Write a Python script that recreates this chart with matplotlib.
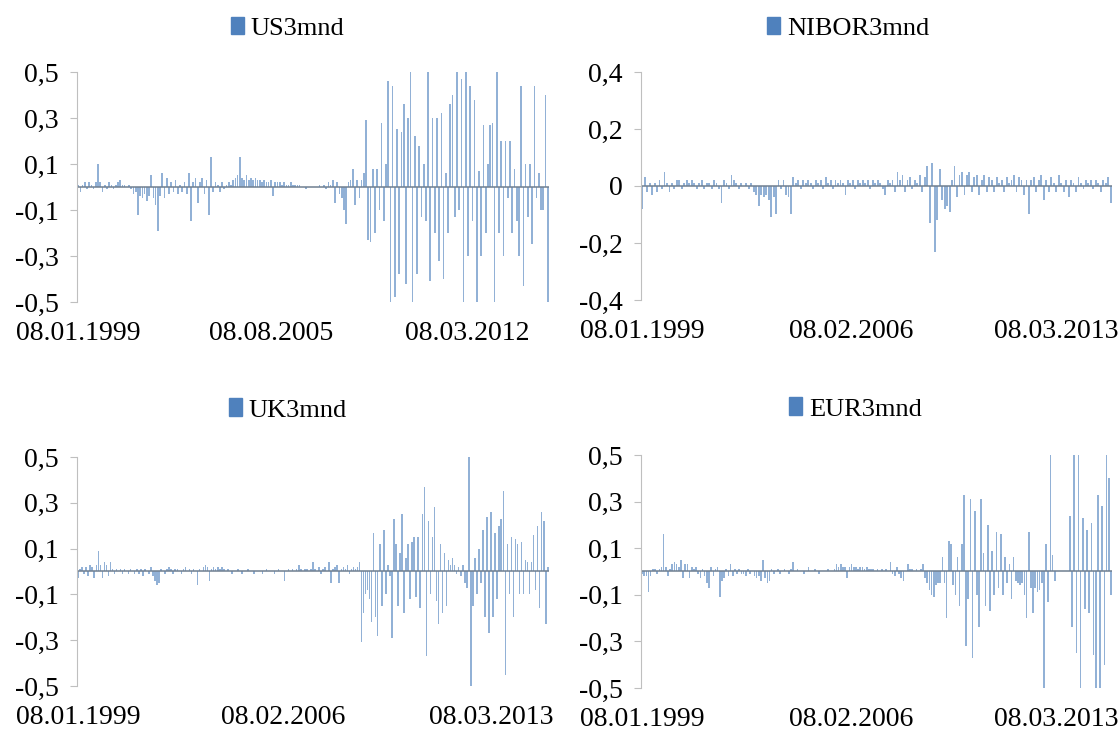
import matplotlib
matplotlib.use('Agg')
import matplotlib.pyplot as plt
from matplotlib.patches import Patch
from matplotlib.ticker import FuncFormatter
import numpy as np

plt.rcParams['font.family'] = 'Liberation Serif'

#-------------------------------------- data
us_quiet = [0.01, -0.02, 0.01, 0.02, -0.01, 0.02, 0.01, -0.01, 0.02, 0.10,
            0.02, -0.02, 0.01, -0.01, 0.02, 0.01, -0.01, 0.01, 0.02, 0.03,
            0.01, 0.01, 0.00, 0.01, -0.01, -0.03, -0.02, -0.12, -0.04, -0.05,
            -0.03, -0.06, -0.04, 0.05, -0.05, -0.08, -0.19, -0.04, 0.06, -0.05,
            0.04, -0.03, 0.02, -0.02, 0.03, -0.03, 0.01, -0.02, 0.02, -0.03,
            0.06, -0.15, 0.02, 0.04, -0.07, 0.02, 0.04, -0.03, 0.03, -0.12,
            0.13, -0.02, 0.02, 0.01, -0.02, 0.02, -0.01, 0.01, 0.02, 0.01,
            0.03, 0.04, 0.05, 0.13, 0.04, 0.03, 0.05, 0.03, 0.04, 0.03,
            0.04, 0.03, 0.03, 0.02, 0.03, 0.02, 0.02, 0.03, -0.04, 0.02,
            0.02, 0.02, 0.01, 0.02, 0.01, 0.01, 0.02, 0.01, 0.01, 0.01,
            0.01, 0.00, 0.00, -0.01, 0.00, 0.00, 0.00, 0.00, 0.00, 0.01,
            0.00, 0.01, -0.01, 0.02, 0.01, 0.03, -0.07, 0.02, -0.03, -0.05,
            -0.10, -0.16, 0.02, 0.03, 0.08, -0.08, 0.03, -0.05, 0.03, 0.06,
            0.29, -0.23, -0.24, 0.08, -0.20, 0.08, -0.10, 0.28, -0.15, 0.10]
us_crisis = [0.46, -0.50, 0.44, -0.48, 0.25, -0.38, 0.24, 0.36, -0.42, 0.30,
             0.50, -0.50, 0.22, -0.38, 0.18, -0.13, 0.10, -0.15, 0.50, -0.41,
             0.30, -0.20, 0.30, -0.32, 0.32, -0.40, 0.06, -0.20, 0.36, 0.40,
             -0.13, 0.50, -0.10, 0.47, -0.50, 0.50, -0.30, 0.44, -0.15, 0.38,
             -0.50, 0.07, -0.30, 0.27, -0.20, 0.10, 0.27, 0.28, -0.50, 0.50,
             -0.20, 0.20, -0.30, 0.20, -0.05, 0.20, -0.20, 0.08, -0.15, -0.30,
             0.44, -0.43, 0.10, -0.13, 0.10, -0.25, 0.44, -0.05, 0.06, -0.10,
             -0.10, 0.40, -0.50]
us3mnd = us_quiet + us_crisis

nibor3mnd = [-0.08, 0.03, -0.02, 0.01, -0.03, 0.01, -0.02, 0.02, -0.01, 0.05,
             0.01, -0.02, 0.01, -0.01, 0.02, 0.02, -0.01, 0.01, 0.02, 0.01,
             0.02, 0.01, -0.01, 0.01, 0.02, -0.01, 0.01, 0.01, -0.01, 0.02,
             0.01, -0.01, -0.06, 0.02, 0.01, -0.01, 0.04, 0.02, 0.01, -0.01,
             0.01, 0.00, 0.01, -0.01, 0.01, -0.02, -0.03, -0.07, -0.03, -0.04,
             -0.03, -0.05, -0.11, -0.04, -0.10, 0.02, -0.01, 0.02, -0.03, -0.04,
             -0.10, 0.03, 0.01, 0.02, -0.01, 0.02, 0.01, 0.02, 0.01, -0.01,
             0.02, 0.01, 0.02, -0.01, 0.03, 0.01, 0.02, -0.01, 0.02, 0.01,
             0.02, 0.01, -0.03, 0.02, 0.01, 0.02, -0.01, 0.02, 0.01, 0.02,
             0.01, 0.02, -0.01, 0.02, 0.01, 0.02, 0.01, -0.01, -0.03, 0.02,
             0.01, 0.02, -0.02, 0.05, 0.02, 0.04, -0.02, 0.02, 0.03, -0.01,
             0.02, 0.01, 0.04, -0.02, 0.03, 0.07, -0.13, 0.08, -0.23, -0.12,
             0.06, -0.05, -0.08, -0.07, -0.09, 0.02, 0.07, -0.04, 0.04, 0.05,
             -0.03, 0.04, 0.05, -0.02, 0.03, 0.04, -0.03, 0.02, 0.04, -0.02,
             0.03, 0.02, -0.02, 0.03, 0.01, 0.02, -0.02, 0.03, 0.01, 0.02,
             0.04, -0.02, 0.03, 0.02, -0.03, 0.02, -0.10, 0.02, 0.03, -0.02,
             0.02, 0.04, -0.05, 0.02, -0.02, 0.03, 0.01, -0.02, 0.04, 0.01,
             -0.02, 0.02, -0.04, 0.02, 0.01, -0.02, 0.03, 0.01, -0.01, 0.02,
             0.01, 0.02, -0.01, 0.02, 0.01, -0.02, 0.02, 0.01, 0.03, -0.06]

uk_quiet = [-0.03, 0.01, 0.02, -0.01, 0.02, -0.02, 0.03, 0.02, -0.03, 0.03,
            0.09, 0.03, -0.03, 0.04, 0.03, -0.02, 0.04, 0.01, -0.01, 0.01,
            0.00, 0.01, -0.01, 0.01, 0.00, -0.01, 0.01, 0.00, -0.01, 0.01,
            -0.01, 0.01, -0.02, 0.01, 0.00, -0.01, 0.02, -0.02, -0.04, -0.06,
            -0.05, 0.01, 0.00, -0.01, 0.01, 0.02, 0.01, -0.01, 0.01, 0.01,
            0.00, -0.01, 0.01, 0.02, 0.00, 0.01, -0.01, 0.01, 0.00, -0.06,
            0.01, 0.00, 0.02, 0.03, 0.02, -0.04, 0.01, 0.02, 0.01, 0.02,
            0.01, 0.02, 0.01, 0.00, 0.01, 0.00, -0.01, 0.00, 0.00, 0.01,
            0.00, -0.01, 0.00, 0.00, 0.01, 0.00, 0.00, -0.01, 0.00, 0.00,
            0.00, -0.01, 0.00, 0.01, 0.00, 0.00, 0.00, -0.01, 0.00, 0.01,
            0.00, 0.00, -0.04, 0.00, 0.01, 0.00, 0.01, 0.00, 0.01, 0.03,
            0.01, 0.00, 0.01, 0.01, 0.00, 0.01, 0.04, 0.01, 0.00, 0.02,
            -0.01, 0.01, 0.02, 0.00, 0.04, -0.05, 0.01, 0.02, 0.03, -0.05,
            0.01, 0.02, 0.01, 0.03, -0.01, 0.01, 0.02, 0.01, 0.02, 0.04]
uk_crisis = [-0.31, -0.18, -0.10, -0.08, -0.12, -0.22, 0.17, -0.20, -0.28, 0.12,
             -0.15, 0.18, -0.10, 0.03, -0.02, -0.29, 0.23, 0.12, -0.15, 0.08,
             0.25, -0.18, 0.06, 0.12, -0.12, 0.13, 0.15, -0.11, 0.15, -0.16,
             0.25, 0.37, -0.37, 0.22, -0.10, 0.15, 0.28, -0.13, -0.23, 0.12,
             -0.18, 0.08, -0.15, 0.05, 0.03, 0.06, 0.03, -0.01, 0.02, -0.02,
             0.03, -0.05, -0.07, 0.50, -0.50, -0.15, 0.06, -0.10, 0.10, -0.05,
             0.18, -0.20, 0.24, -0.27, 0.26, -0.20, 0.17, -0.12, 0.20, 0.23,
             0.35, -0.45, 0.12, -0.10, 0.15, -0.20, 0.14, 0.12, -0.10, 0.13,
             -0.10, 0.05, 0.04, -0.10, 0.04, 0.16, -0.08, 0.20, -0.16, 0.26,
             0.22, -0.23, 0.02]
uk3mnd = uk_quiet + uk_crisis

eur_quiet = [-0.01, -0.02, -0.02, -0.09, -0.02, 0.01, 0.01, -0.01, 0.01, 0.02,
             0.16, 0.02, -0.02, 0.01, 0.03, 0.04, 0.03, 0.02, 0.05, -0.03,
             0.03, 0.03, -0.03, 0.02, 0.01, 0.02, -0.01, -0.03, 0.01, -0.02,
             -0.05, -0.07, 0.02, -0.02, 0.01, 0.02, -0.11, -0.04, -0.03, 0.01,
             -0.02, 0.03, -0.02, 0.01, -0.01, 0.01, -0.01, -0.01, -0.02, 0.01,
             -0.01, 0.00, -0.02, -0.03, -0.02, -0.04, 0.05, -0.03, -0.05, -0.04,
             0.01, -0.01, 0.00, 0.01, -0.01, 0.00, 0.01, 0.00, -0.01, 0.01,
             0.04, 0.00, 0.01, 0.00, 0.00, -0.01, 0.00, 0.02, 0.00, 0.00,
             0.01, 0.00, -0.01, 0.00, 0.00, 0.00, 0.01, 0.00, 0.00, 0.01,
             0.03, 0.02, 0.03, 0.02, 0.02, -0.03, 0.02, 0.03, 0.02, 0.02,
             0.01, 0.02, 0.02, 0.01, 0.02, 0.01, 0.01, 0.01, 0.00, 0.01,
             0.00, 0.01, 0.00, 0.01, 0.00, 0.04, -0.01, -0.02, 0.02, -0.01,
             -0.03, -0.04, 0.00, 0.03, 0.01, 0.01, 0.00, 0.01, 0.00, 0.01,
             0.03]
eur_crisis = [-0.03, -0.05, -0.08, -0.10, -0.11, -0.06, -0.05, -0.05, 0.06, -0.05,
              -0.20, 0.13, 0.12, -0.06, -0.10, 0.06, -0.15, 0.12, 0.33, -0.32,
              -0.12, 0.31, -0.37, 0.26, -0.10, -0.24, 0.31, 0.08, -0.15, 0.20,
              -0.17, 0.09, -0.10, 0.17, -0.07, 0.16, -0.10, 0.06, -0.05, 0.03,
              -0.12, 0.06, -0.04, -0.05, -0.06, -0.05, -0.10, -0.20, 0.17, -0.07,
              -0.18, -0.07, -0.09, -0.08, -0.05]
eur_late = [-0.50, 0.12, -0.13, 0.50, 0.07, -0.04, 0.00, 0.00, 0.00, 0.00,
            0.00, 0.00, 0.24, -0.24, 0.50, -0.35, 0.50, -0.50, 0.23, -0.16,
            0.18, -0.18, 0.21, -0.36, -0.50, 0.33, -0.50, 0.28, -0.40, 0.50,
            0.40, -0.10]
eur3mnd = eur_quiet + eur_crisis + eur_late

us_dates = ['08.01.1999', '08.08.2005', '08.03.2012']
other_dates = ['08.01.1999', '08.02.2006', '08.03.2013']

#-------------------------------------- plotting
bar_col = '#4F81BD'


def comma_fmt(v, pos):
    if abs(v) < 1e-9:
        return '0'
    return ('%.1f' % v).replace('.', ',')


fig = plt.figure(figsize=(11.18, 7.38), dpi=100)

panels = [
    (us3mnd, 'US3mnd', [0.0689, 0.5908, 0.422, 0.3117], 0.5,
     [0.5, 0.3, 0.1, -0.1, -0.3, -0.5], us_dates, [0.0, 0.41, 0.825], (0.257, 0.962)),
    (nibor3mnd, 'NIBOR3mnd', [0.5733, 0.5935, 0.4213, 0.309], 0.4,
     [0.4, 0.2, 0.0, -0.2, -0.4], other_dates, [0.0, 0.443, 0.88], (0.7585, 0.962)),
    (uk3mnd, 'UK3mnd', [0.0689, 0.0705, 0.422, 0.3103], 0.5,
     [0.5, 0.3, 0.1, -0.1, -0.3, -0.5], other_dates, [0.0, 0.435, 0.875], (0.2576, 0.4444)),
    (eur3mnd, 'EUR3mnd', [0.5733, 0.0678, 0.4213, 0.3157], 0.5,
     [0.5, 0.3, 0.1, -0.1, -0.3, -0.5], other_dates, [0.0, 0.443, 0.88], (0.765, 0.4458)),
]

for vals, name, rect, lim, yt, dates, frac, leg_xy in panels:
    ax = fig.add_axes(rect)
    n = len(vals)
    x = np.arange(n)
    ax.bar(x, vals, width=0.75, color=bar_col, alpha=0.62, linewidth=0)
    ax.axhline(0, color='#6f7f90', lw=1.1)
    ax.set_xlim(-0.5, n - 0.5)
    ax.set_ylim(-lim, lim)
    ax.set_yticks(yt)
    ax.yaxis.set_major_formatter(FuncFormatter(comma_fmt))
    ax.set_xticks([f * n for f in frac])
    ax.set_xticklabels(dates)
    for s in ['top', 'right', 'bottom']:
        ax.spines[s].set_visible(False)
    ax.spines['left'].set_color('#bfbfbf')
    ax.tick_params(axis='x', length=0, pad=14, labelsize=20)
    ax.tick_params(axis='y', length=5, color='#bfbfbf', labelsize=20, pad=8)
    ax.legend(handles=[Patch(color=bar_col, label=name)], loc='center',
              bbox_to_anchor=leg_xy, bbox_transform=fig.transFigure,
              frameon=False, fontsize=19, handlelength=0.5, handleheight=0.65,
              handletextpad=0.25)

fig.savefig('out.png', dpi=100)
